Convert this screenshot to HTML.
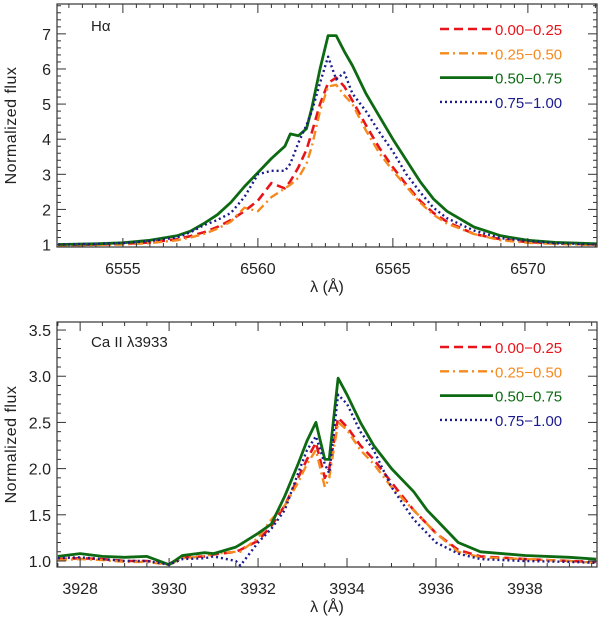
<!DOCTYPE html>
<html><head><meta charset="utf-8">
<style>
html,body{margin:0;padding:0;background:#fff;overflow:hidden;}
svg{display:block;font-family:"Liberation Sans","DejaVu Sans",sans-serif;}
</style></head>
<body>
<svg id="chart" width="600" height="618" viewBox="0 0 600 618"></svg>
<script>
// ===== Data: H-alpha panel =====
const haX = [6552.6,6554,6555,6556,6557,6557.5,6558,6558.5,6559,6559.5,6560,6560.5,6561,6561.2,6561.5,6561.8,6562,6562.3,6562.6,6562.9,6563.2,6563.5,6564,6564.5,6565,6565.5,6566,6566.5,6567,6568,6569,6570,6571,6572.6];
const haGreen = [1.0,1.02,1.05,1.12,1.25,1.38,1.6,1.85,2.2,2.65,3.05,3.45,3.8,4.15,4.1,4.3,4.9,6.0,6.95,6.95,6.5,6.1,5.3,4.65,4.0,3.4,2.8,2.3,1.95,1.5,1.25,1.12,1.06,1.02];
const haRed   = [0.98,1.0,1.02,1.06,1.15,1.24,1.35,1.5,1.7,1.95,2.25,2.75,2.6,2.8,3.2,3.7,4.2,5.0,5.6,5.75,5.5,5.1,4.4,3.75,3.2,2.7,2.25,1.9,1.65,1.3,1.15,1.07,1.03,1.0];
const haOrange= [0.97,0.99,1.0,1.04,1.12,1.2,1.3,1.45,1.65,2.05,1.95,2.35,2.6,2.7,2.9,3.3,3.8,4.8,5.5,5.55,5.25,5.0,4.25,3.6,3.1,2.65,2.2,1.85,1.6,1.3,1.12,1.05,1.02,0.98];
const haBlue  = [1.0,1.02,1.04,1.1,1.2,1.35,1.55,1.7,1.9,2.35,3.0,3.1,3.1,3.3,3.9,4.4,4.8,5.6,6.35,5.7,5.9,5.3,4.8,4.2,3.65,3.0,2.5,2.05,1.75,1.4,1.18,1.1,1.04,1.0];
const haXTicks = [6555,6560,6565,6570];
const haYTicks = [1,2,3,4,5,6,7];

// ===== Data: Ca II panel =====
const caX = [3927.5,3928,3928.5,3929,3929.5,3930,3930.3,3930.8,3931,3931.5,3931.6,3932,3932.3,3932.6,3932.9,3933.1,3933.3,3933.5,3933.6,3933.8,3934,3934.3,3934.6,3935,3935.5,3935.8,3936,3936.5,3937,3938,3939,3939.6];
const caGreen = [1.05,1.08,1.05,1.04,1.05,0.96,1.06,1.09,1.08,1.15,1.18,1.3,1.4,1.7,2.05,2.3,2.5,2.1,2.1,2.98,2.8,2.5,2.25,2.0,1.75,1.55,1.45,1.2,1.1,1.06,1.04,1.02];
const caRed   = [1.02,1.03,1.02,1.0,1.0,0.97,1.04,1.05,1.07,1.1,1.12,1.22,1.38,1.6,1.9,2.1,2.28,1.9,2.0,2.55,2.45,2.25,2.1,1.85,1.55,1.4,1.3,1.12,1.05,1.02,1.0,0.99];
const caOrange= [1.01,1.02,1.01,0.99,0.99,0.96,1.03,1.05,1.08,1.1,1.1,1.25,1.45,1.6,1.85,2.05,2.2,1.8,1.9,2.5,2.42,2.2,2.05,1.8,1.55,1.4,1.3,1.1,1.04,1.02,1.0,0.98];
const caBlue  = [1.03,1.04,1.02,1.0,1.0,0.96,1.02,1.03,1.05,1.0,0.95,1.2,1.35,1.55,1.95,2.2,2.35,2.05,1.95,2.8,2.7,2.4,2.2,1.8,1.45,1.3,1.2,1.08,1.02,1.0,0.99,0.98];
const caXTicks = [3928,3930,3932,3934,3936,3938];
const caYTicks = [1.0,1.5,2.0,2.5,3.0,3.5];

const legendLabels = ["0.00\u22120.25","0.25\u22120.50","0.50\u22120.75","0.75\u22121.00"];
const colors = ["#e8141b","#f58a1f","#0d6a12","#1b1b8e"];
const dashes = ["9,5","9,4,2,4","","2,3"];
const widths = [2.6,2.4,2.8,2.4];

const NS = "http://www.w3.org/2000/svg";
const svg = document.getElementById("chart");
function mk(tag, attrs, parent){
  const e = document.createElementNS(NS, tag);
  for (const k in attrs) e.setAttribute(k, attrs[k]);
  (parent||svg).appendChild(e);
  return e;
}

function panel(cfg){
  const g = mk("g", {});
  
  
  const L=57,R=597,T=cfg.top,B=cfg.bottom;
  const sx = v => L + (v - cfg.xmin)/(cfg.xmax - cfg.xmin)*(R-L);
  const sy = v => B - (v - cfg.ymin)/(cfg.ymax - cfg.ymin)*(B-T);
  const cp = mk("clipPath", {id: cfg.name+"-clip"}, g);
  mk("rect", {x:L,y:T,width:R-L,height:B-T}, cp);
  cfg.series.forEach((ys,i)=>{
    const d = cfg.x.map((xv,j)=>(j?"L":"M")+sx(xv).toFixed(1)+","+sy(ys[j]).toFixed(1)).join("");
    const p = mk("path", {d, fill:"none", stroke:colors[i], "stroke-width":widths[i], "stroke-linejoin":"round", "clip-path":"url(#"+cfg.name+"-clip)"}, g);
    if (dashes[i]) p.setAttribute("stroke-dasharray", dashes[i]);
    
    
  });
  const fr = mk("rect", {x:L,y:T,width:R-L,height:B-T,fill:"none",stroke:"#333","stroke-width":1.2}, g);
  
  
  const tg = mk("g", {stroke:"#333","stroke-width":1}, g);
  for (let v = Math.ceil(cfg.xmin/cfg.xminor)*cfg.xminor; v <= cfg.xmax; v += cfg.xminor){
    const x = sx(v), major = Math.abs(v/cfg.xmajor - Math.round(v/cfg.xmajor)) < 1e-6, len = major?9:4;
    mk("line",{x1:x,x2:x,y1:B,y2:B-len},tg); mk("line",{x1:x,x2:x,y1:T,y2:T+len},tg);
  }
  for (let v = Math.ceil(cfg.ymin/cfg.yminor)*cfg.yminor; v <= cfg.ymax+1e-9; v += cfg.yminor){
    const y = sy(v), major = Math.abs(v/cfg.ymajor - Math.round(v/cfg.ymajor)) < 1e-6, len = major?9:4;
    mk("line",{x1:L,x2:L+len,y1:y,y2:y},tg); mk("line",{x1:R,x2:R-len,y1:y,y2:y},tg);
  }
  cfg.xTicks.forEach(v=>{
    const t = mk("text",{x:sx(v),y:B+27,"text-anchor":"middle","font-size":16,fill:"#222"},g);
    t.textContent = v;
    
    
  });
  cfg.yTicks.forEach(v=>{
    const t = mk("text",{x:L-6,y:sy(v)+6,"text-anchor":"end","font-size":16,fill:"#222"},g);
    t.textContent = cfg.yfmt(v);
    
    
  });
  const xt = mk("text",{x:(L+R)/2,y:B+45,"text-anchor":"middle","font-size":16,fill:"#222"},g);
  xt.textContent = "\u03bb (\u00c5)";
  
  
  const cy=(T+B)/2;
  const yt = mk("text",{x:16,y:cy,"text-anchor":"middle","font-size":16,fill:"#222",transform:"rotate(-90 16 "+cy+")","letter-spacing":"0.5"},g);
  yt.textContent = "Normalized flux";
  
  
  const ti = mk("text",{x:91,y:cfg.titleY,"font-size":15,fill:"#222"},g);
  ti.textContent = cfg.title;
  
  
  legendLabels.forEach((lab,i)=>{
    const y = cfg.legendY + i*24.3;
    const ln = mk("line",{x1:440,x2:493,y1:y,y2:y,stroke:colors[i],"stroke-width":widths[i]},g);
    if (dashes[i]) ln.setAttribute("stroke-dasharray", dashes[i]);
    
    
    const t = mk("text",{x:495,y:y+6,"font-size":15,fill:colors[i]},g);
    t.textContent = lab;
    
    
  });
}

panel({name:"halpha-panel", top:4, bottom:247, xmin:6552.56, xmax:6572.56, ymin:0.93, ymax:7.85,
  x:haX, series:[haRed,haOrange,haGreen,haBlue], xTicks:haXTicks, yTicks:haYTicks,
  xmajor:5, xminor:0.5, ymajor:1, yminor:0.2, yfmt:v=>String(v), title:"H\u03b1", titleY:31, legendY:29});
panel({name:"caii-panel", top:322, bottom:567, xmin:3927.48, xmax:3939.62, ymin:0.935, ymax:3.587,
  x:caX, series:[caRed,caOrange,caGreen,caBlue], xTicks:caXTicks, yTicks:caYTicks,
  xmajor:2, xminor:0.5, ymajor:0.5, yminor:0.1, yfmt:v=>v.toFixed(1), title:"Ca II \u03bb3933", titleY:347, legendY:347});
</script>
</body></html>
